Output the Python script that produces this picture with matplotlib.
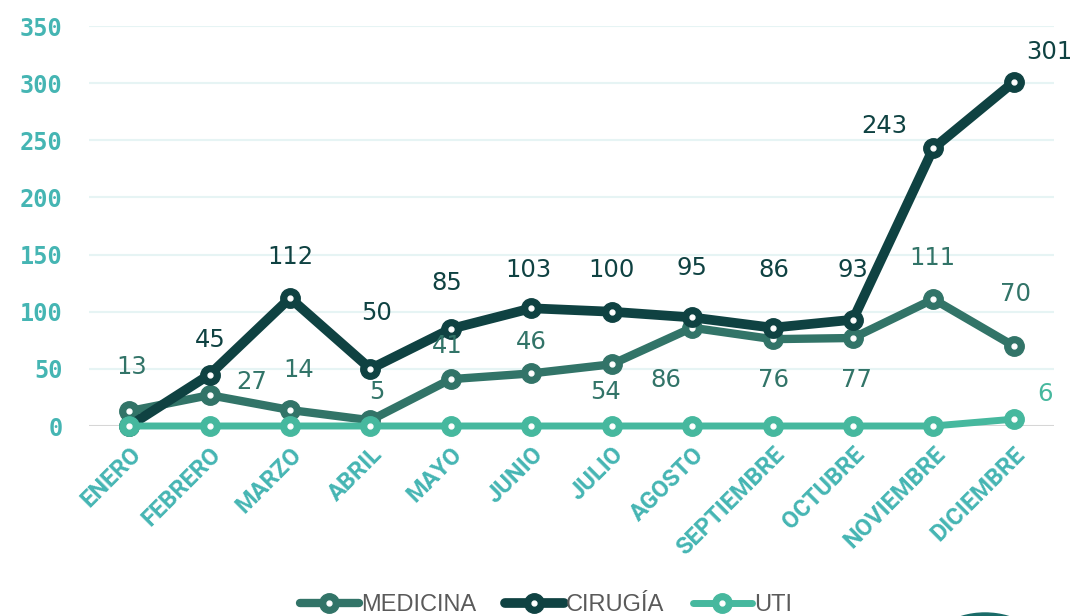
import matplotlib
matplotlib.use("Agg")
import matplotlib.pyplot as plt
from matplotlib.patches import Ellipse

# Data
meses = ["ENERO", "FEBRERO", "MARZO", "ABRIL", "MAYO", "JUNIO", "JULIO",
         "AGOSTO", "SEPTIEMBRE", "OCTUBRE", "NOVIEMBRE", "DICIEMBRE"]
medicina = [13, 27, 14, 5, 41, 46, 54, 86, 76, 77, 111, 70]
cirugia = [0, 45, 112, 50, 85, 103, 100, 95, 86, 93, 243, 301]
uti = [0, 0, 0, 0, 0, 0, 0, 0, 0, 0, 0, 6]
y_ticks = [0, 50, 100, 150, 200, 250, 300, 350]

# Label offsets in pixels (None = no label)
off_med = [(2, 44), (42, 13), (9, 40), (6, 28), (-4, 33), (0, 31), (-6, -28),
           (-26, -52), (1, -41), (4, -42), (-1, 41), (2, 52)]
off_cir = [None, (1, 35), (0, 41), (6, 56), (-4, 46), (-3, 38), (0, 42),
           (0, 49), (1, 58), (0, 50), (-49, 22), (36, 30)]
off_uti = [None] * 11 + [(31, 25)]

c_med = "#327468"
c_cir = "#0f4242"
c_uti = "#46b89e"
c_tick = "#45b5b3"

fig = plt.figure(figsize=(10.76, 6.16), dpi=100)
ax = fig.add_axes([89 / 1076, 1 - 426 / 616, (1054 - 89) / 1076, 400 / 616])

x = list(range(len(meses)))
series = [(medicina, c_med, 6, off_med, "MEDICINA", 2),
          (cirugia, c_cir, 7, off_cir, "CIRUGÍA", 3),
          (uti, c_uti, 5, off_uti, "UTI", 4)]

handles = []
for vals, col, lw, offs, name, z in series:
    ln, = ax.plot(x, vals, color=col, lw=lw, marker="o", ms=14,
                  solid_capstyle="round", zorder=z, clip_on=False)
    dot, = ax.plot(x, vals, ls="none", marker="o", ms=3.5, color="white",
                   zorder=z + 0.1, clip_on=False)
    handles.append((ln, dot))
    for xi, v, o in zip(x, vals, offs):
        if o is None:
            continue
        ax.annotate(str(v), (xi, v), xytext=o, textcoords="offset pixels",
                    ha="center", va="center", fontsize=17.5, color=col,
                    family="DejaVu Sans", zorder=6)

ax.set_xlim(-0.5, 11.5)
ax.set_ylim(0, 350)
ax.set_yticks(y_ticks)
ax.set_yticklabels([str(v) for v in y_ticks], family="DejaVu Sans Mono",
                   fontweight="bold", fontsize=17, color=c_tick)
ax.set_xticks(x)
ax.set_xticklabels(meses, rotation=45, ha="right", va="top",
                   rotation_mode="anchor", fontweight="bold", fontsize=17,
                   color=c_tick, family="Roboto")
ax.tick_params(axis="y", length=0, pad=19)
ax.tick_params(axis="x", length=0, pad=12)

for v in y_ticks[1:]:
    ax.axhline(v, color="#e6f4f4", lw=1.5, zorder=0)
ax.axhline(0, color="#d6d6d6", lw=1.5, zorder=0)
for s in ax.spines.values():
    s.set_visible(False)

fig.legend(handles, [s[4] for s in series], loc="center",
           bbox_to_anchor=(546 / 1076, 1 - 605 / 616), ncol=3, frameon=False,
           handlelength=2.5, handletextpad=0.1, columnspacing=1.2,
           prop={"family": "Liberation Sans", "size": 17},
           labelcolor="#5a5a5a")

# partial logo at bottom right
fig.patches.append(Ellipse((985 / 1076, -40 / 616), 120 / 1076, 86 / 616,
                           transform=fig.transFigure, color="#1a6b68"))

fig.savefig("out.png", dpi=100)
